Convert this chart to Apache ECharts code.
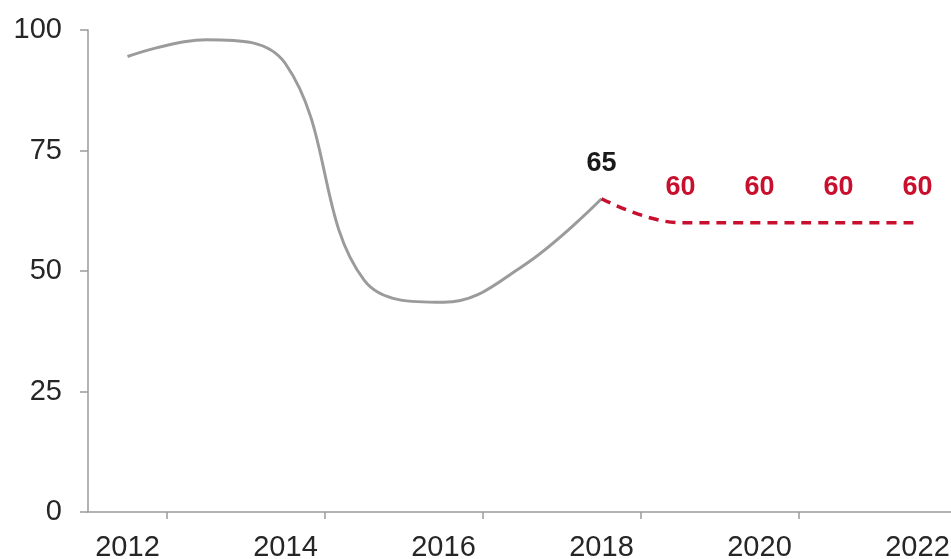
<!DOCTYPE html>
<html>
<head>
<meta charset="utf-8">
<script src="https://cdn.jsdelivr.net/npm/echarts@6/dist/echarts.min.js"></script>
<style>html,body{margin:0;padding:0;background:#fff}#c{width:951px;height:559px}</style>
</head>
<body>
<div id="c"></div>
<script>
var years = ['2012','2013','2014','2015','2016','2017','2018','2019','2020','2021','2022'];
var actualValues = [94.5, 98, 93, 48, 43.5, 51, 65, null, null, null, null];
var forecastValues = [null, null, null, null, null, null, 65, 60, 60, 60, 60];
var yTicks = [0, 25, 50, 75, 100];

var chart = echarts.init(document.getElementById('c'));
var font = 'Liberation Sans, Arial, sans-serif';
var axisColor = '#9a9a9a';

var actualData = actualValues.map(function (v, i) {
  if (i === 6) return { value: v, label: { show: true } };
  return v;
});
var forecastData = forecastValues.map(function (v, i) {
  if (v !== null && i > 6) return { value: v, label: { show: true } };
  return v;
});

chart.setOption({
  animation: false,
  grid: { left: 88, top: 30, bottom: 47, right: -6, containLabel: false, outerBoundsMode: 'none' },
  xAxis: {
    type: 'category',
    data: years,
    boundaryGap: true,
    axisLine: { lineStyle: { color: axisColor, width: 1.5 } },
    axisTick: { show: true, length: 7, interval: function (i) { return i % 2 === 1; }, lineStyle: { color: axisColor, width: 1.5 } },
    axisLabel: { interval: 1, margin: 21, fontSize: 29, color: '#262626', fontFamily: font },
    splitLine: { show: false }
  },
  yAxis: {
    type: 'value',
    min: yTicks[0],
    max: yTicks[yTicks.length - 1],
    interval: 25,
    axisLine: { show: true, lineStyle: { color: axisColor, width: 1.5 } },
    axisTick: { show: true, length: 8, lineStyle: { color: axisColor, width: 1.5 } },
    axisLabel: { margin: 26, fontSize: 29, color: '#262626', fontFamily: font },
    splitLine: { show: false }
  },
  series: [
    {
      type: 'line',
      data: actualData,
      smooth: 0.4,
      symbol: 'circle',
      symbolSize: 0,
      showSymbol: true,
      connectNulls: false,
      lineStyle: { color: '#9b9b9b', width: 3 },
      itemStyle: { color: '#9b9b9b' },
      label: { show: false, position: 'top', distance: 22, fontSize: 27, fontWeight: 'bold', color: '#1a1a1a', fontFamily: font },
      z: 2
    },
    {
      type: 'line',
      data: forecastData,
      smooth: 0.4,
      symbol: 'circle',
      symbolSize: 0,
      showSymbol: true,
      lineStyle: { color: '#c8102e', width: 3.5, type: [10, 7] },
      itemStyle: { color: '#c8102e' },
      label: { show: false, position: 'top', distance: 22, fontSize: 27, fontWeight: 'bold', color: '#c8102e', fontFamily: font },
      z: 3
    }
  ]
});
</script>
</body>
</html>
